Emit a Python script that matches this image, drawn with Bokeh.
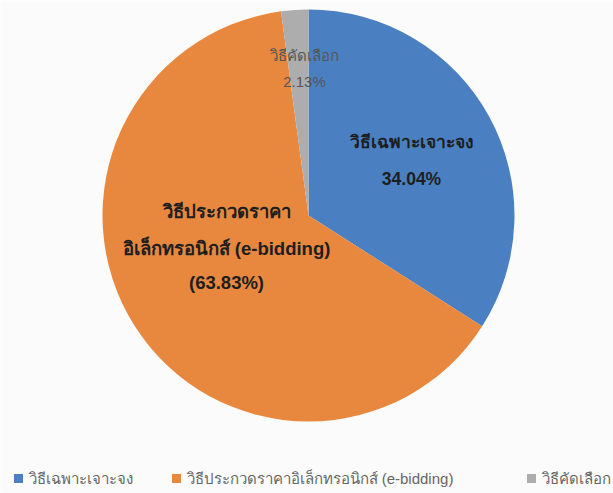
import math
from bokeh.plotting import figure
from bokeh.models import Range1d, ColumnDataSource
from bokeh.core.properties import value
from bokeh.embed import file_html
from bokeh.resources import INLINE

# ---- data ----
categories = ["วิธีเฉพาะเจาะจง", "วิธีประกวดราคาอิเล็กทรอนิกส์ (e-bidding)", "วิธีคัดเลือก"]
shares = [34.04, 63.83, 2.13]
colors = ["#4A80C2", "#E8883E", "#ADADAD"]
slice_labels = [
    ["วิธีเฉพาะเจาะจง", "34.04%"],
    ["วิธีประกวดราคา", "อิเล็กทรอนิกส์ (e-bidding)", "(63.83%)"],
    ["วิธีคัดเลือก", "2.13%"],
]

W, H = 613, 493
FONT = "Liberation Sans"

p = figure(width=W, height=H, output_backend="svg", toolbar_location=None,
           x_range=Range1d(0, W), y_range=Range1d(0, H), min_border=0)
p.axis.visible = False
p.grid.visible = False
p.outline_line_color = None
p.background_fill_color = "#FBFBFB"
p.border_fill_color = "#FBFBFB"

cx, cy, r = 308, H - 215, 206
total = sum(shares)
starts, ends = [], []
cum = 0.0
for s in shares:
    starts.append(math.pi / 2 - 2 * math.pi * cum / total)
    cum += s
    ends.append(math.pi / 2 - 2 * math.pi * cum / total)

src = ColumnDataSource(dict(start=starts, end=ends, color=colors))
p.wedge(x=cx, y=cy, radius=r, start_angle="start", end_angle="end",
        direction="clock", fill_color="color", line_color=None, source=src)

# label anchor positions (pixels, layout only)
label_pos = [(411, [141, 178]), (226, [211, 248, 282]), (304, [55, 81])]
label_style = [("bold", "#1E1E1E", "17.5px"), ("bold", "#1E1E1E", "18.5px"), ("normal", "#555555", "15px")]
for (lx, lys), lines, (fs, col, size) in zip(label_pos, slice_labels, label_style):
    p.text(x=[lx] * len(lines), y=[H - y for y in lys], text=lines,
           text_align="center", text_baseline="middle",
           text_font=value(FONT), text_font_style=fs,
           text_color=col, text_font_size=size)

# legend
leg_x = [14, 172, 527]
leg_y = H - 478
p.rect(x=[x + 4 for x in leg_x], y=[leg_y] * 3, width=9, height=9,
       fill_color=colors, line_color=None)
p.text(x=[x + 14 for x in leg_x], y=[leg_y] * 3, text=categories,
       text_align="left", text_baseline="middle",
       text_font=value(FONT), text_color="#666666", text_font_size="15px")

open("out.html", "w").write(file_html(p, INLINE))
